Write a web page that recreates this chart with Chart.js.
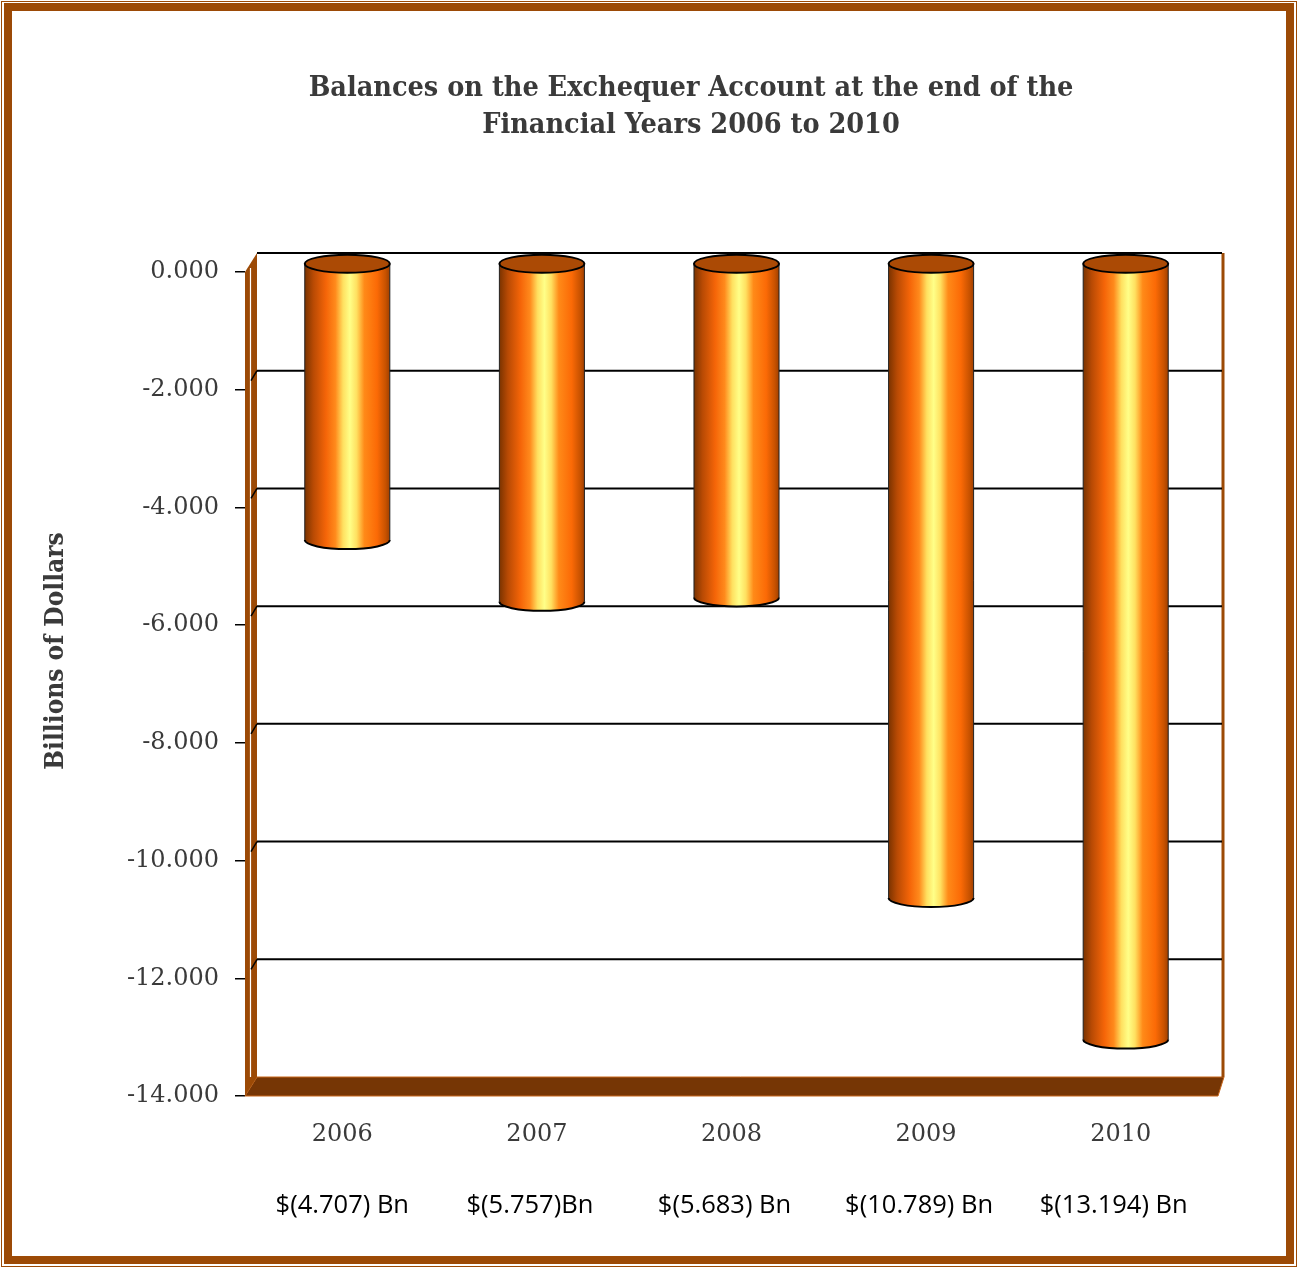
<!DOCTYPE html>
<html><head><meta charset="utf-8">
<script src="https://cdn.jsdelivr.net/npm/chart.js@4.4.0/dist/chart.umd.min.js"></script>
<style>html,body{margin:0;padding:0;background:#fff;} #wrap{width:1298px;height:1268px;position:relative;}</style>
</head><body><div id="wrap"><canvas id="c"></canvas></div>
<script>
const categories = ['2006', '2007', '2008', '2009', '2010'];
const balances = [-4.707, -5.757, -5.683, -10.789, -13.194];
const valueLabels = ['$(4.707) Bn', '$(5.757)Bn', '$(5.683) Bn', '$(10.789) Bn', '$(13.194) Bn'];
const titleLines = ['Balances on the Exchequer Account at the end of the', 'Financial Years 2006 to 2010'];
const yAxisTitle = 'Billions of Dollars';
const yMin = -14, yMax = 0, yStep = 2;

const SERIF_C = "'DejaVu Serif Condensed', 'DejaVu Serif', serif";
const SERIF = "'DejaVu Serif', serif";
const TEXT = '#3a3a3a';
const BROWN = '#9c4a06';
const DX = 12, DY = 19;      // back-wall depth
const BX = 5, BY = -9;       // bar depth (mid)

const scenePlugin = {
  id: 'scene3d',
  beforeDatasetsDraw(chart) {
    const ctx = chart.ctx;
    const {left, right, bottom} = chart.chartArea;
    const y = chart.scales.y;
    const y0 = y.getPixelForValue(yMax);
    ctx.save();
    // floor
    ctx.beginPath();
    ctx.moveTo(left, bottom);
    ctx.lineTo(left + DX, bottom - DY);
    ctx.lineTo(right + 6, bottom - DY);
    ctx.lineTo(right, bottom);
    ctx.closePath();
    ctx.fillStyle = '#763605';
    ctx.fill();
    ctx.strokeStyle = '#c8661a';
    ctx.lineWidth = 1;
    ctx.stroke();
    // left wall
    ctx.beginPath();
    ctx.moveTo(left, bottom);
    ctx.lineTo(left, y0);
    ctx.lineTo(left + DX, y0 - DY);
    ctx.lineTo(left + DX, bottom - DY);
    ctx.closePath();
    ctx.fillStyle = BROWN;
    ctx.fill();
    ctx.strokeStyle = '#ffffff';
    ctx.lineWidth = 1.2;
    ctx.beginPath();
    ctx.moveTo(left + 5.5, y0 - 4);
    ctx.lineTo(left + 5.5, bottom - DY);
    ctx.stroke();
    // right back edge
    ctx.strokeStyle = BROWN;
    ctx.lineWidth = 3;
    ctx.beginPath();
    ctx.moveTo(right + 5, y0 - DY);
    ctx.lineTo(right + 5, bottom - DY);
    ctx.stroke();
    // back-wall gridlines
    ctx.strokeStyle = '#000';
    ctx.lineWidth = 2;
    for (let v = yMax; v > yMin; v -= yStep) {
      const py = y.getPixelForValue(v) - DY;
      ctx.beginPath();
      ctx.moveTo(left + DX, py);
      ctx.lineTo(right + 4, py);
      ctx.stroke();
      if (v !== yMax) {
        ctx.lineWidth = 1.5;
        ctx.beginPath();
        ctx.moveTo(left + 6, py + 10);
        ctx.lineTo(left + DX, py);
        ctx.stroke();
        ctx.lineWidth = 2;
      }
    }
    ctx.restore();
  },
  afterDatasetsDraw(chart) {
    const ctx = chart.ctx;
    const meta = chart.getDatasetMeta(0);
    ctx.save();
    meta.data.forEach(el => {
      const p = el.getProps(['x', 'y', 'base', 'width'], true);
      const cx = p.x + BX;
      const w = p.width, rx = w / 2, ry = 9;
      const top = Math.min(p.y, p.base) + BY;
      const bot = Math.max(p.y, p.base) + BY;
      const x0 = cx - rx, x1 = cx + rx;
      const g = ctx.createLinearGradient(x0, 0, x1, 0);
      g.addColorStop(0, '#7a3300');
      g.addColorStop(0.1, '#b84a04');
      g.addColorStop(0.25, '#f56508');
      g.addColorStop(0.36, '#ff8a1c');
      g.addColorStop(0.45, '#ffe060');
      g.addColorStop(0.53, '#ffff88');
      g.addColorStop(0.61, '#ffe060');
      g.addColorStop(0.7, '#ff8a18');
      g.addColorStop(0.85, '#fb6a06');
      g.addColorStop(0.95, '#c85200');
      g.addColorStop(1, '#a04000');
      ctx.beginPath();
      ctx.moveTo(x0, top);
      ctx.lineTo(x0, bot);
      ctx.ellipse(cx, bot, rx, ry, 0, Math.PI, 0, true);
      ctx.lineTo(x1, top);
      ctx.closePath();
      ctx.fillStyle = g;
      ctx.fill();
      ctx.strokeStyle = '#222';
      ctx.lineWidth = 1;
      ctx.beginPath();
      ctx.moveTo(x0, top); ctx.lineTo(x0, bot);
      ctx.moveTo(x1, top); ctx.lineTo(x1, bot);
      ctx.stroke();
      ctx.lineWidth = 2;
      ctx.strokeStyle = '#000';
      ctx.beginPath();
      ctx.ellipse(cx, bot, rx, ry, 0, Math.PI, 0, true);
      ctx.stroke();
      ctx.beginPath();
      ctx.ellipse(cx, top, rx, ry, 0, 0, Math.PI * 2);
      ctx.fillStyle = '#ab4a05';
      ctx.fill();
      ctx.stroke();
    });
    ctx.restore();
  },
  afterDraw(chart) {
    const ctx = chart.ctx;
    const W = chart.width, H = chart.height;
    const xs = chart.scales.x;
    // title
    ctx.save();
    ctx.font = "bold 28.5px " + SERIF_C;
    ctx.fillStyle = TEXT;
    ctx.textAlign = 'center';
    ctx.textBaseline = 'middle';
    titleLines.forEach((t, i) => ctx.fillText(t, 691, 89 + i * 37));
    ctx.restore();
    // y-axis title
    ctx.save();
    ctx.translate(56, 651);
    ctx.rotate(-Math.PI / 2);
    ctx.font = "bold 26px " + SERIF_C;
    ctx.fillStyle = TEXT;
    ctx.textAlign = 'center';
    ctx.textBaseline = 'middle';
    ctx.fillText(yAxisTitle, 0, 0);
    ctx.restore();
    // value labels
    ctx.save();
    ctx.font = "25.5px 'Open Sans', sans-serif";
    ctx.fillStyle = '#000';
    ctx.textAlign = 'center';
    ctx.textBaseline = 'middle';
    valueLabels.forEach((t, i) => {
      const px = xs.getPixelForValue(i) - (i === 0 ? 0 : 7);
      ctx.fillText(t, px, 1206);
    });
    ctx.restore();
    // frame
    ctx.save();
    ctx.strokeStyle = BROWN;
    ctx.lineWidth = 1;
    ctx.strokeRect(1.5, 1.5, W - 3, H - 3);
    ctx.lineWidth = 8;
    ctx.strokeRect(8, 7, W - 16, H - 15);
    ctx.restore();
  }
};

new Chart(document.getElementById('c'), {
  type: 'bar',
  data: {
    labels: categories,
    datasets: [{
      data: balances,
      backgroundColor: 'rgba(0,0,0,0)',
      borderWidth: 0,
      barPercentage: 0.437,
      categoryPercentage: 1
    }]
  },
  options: {
    responsive: true,
    maintainAspectRatio: false,
    animation: false,
    events: [],
    layout: {padding: {left: 0, right: 80, top: 272, bottom: 0}},
    plugins: {
      legend: {display: false},
      tooltip: {enabled: false},
      title: {display: false}
    },
    scales: {
      x: {
        afterFit: s => { s.height = 172; },
        grid: {display: false},
        border: {display: false},
        ticks: {color: TEXT, font: {family: SERIF, size: 24}, padding: 16}
      },
      y: {
        min: yMin, max: yMax,
        afterFit: s => { s.width = 245; },
        border: {display: false},
        grid: {drawOnChartArea: false, drawTicks: true, tickLength: 10, color: '#000', lineWidth: 1.5},
        ticks: {
          stepSize: yStep,
          color: TEXT,
          padding: 16,
          font: {family: SERIF, size: 24},
          callback: v => v.toFixed(3)
        }
      }
    }
  },
  plugins: [scenePlugin]
});
</script></body></html>
